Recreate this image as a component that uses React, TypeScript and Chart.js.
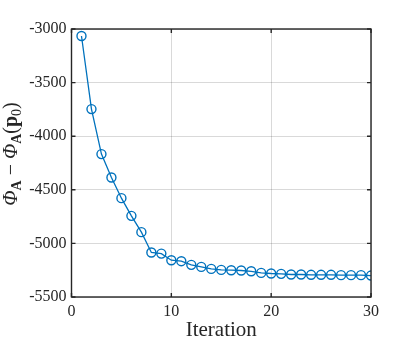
import React, { useEffect, useRef } from 'react';
import { Chart, registerables } from 'chart.js';

Chart.register(...registerables);

const iterations = [
  1, 2, 3, 4, 5, 6, 7, 8, 9, 10, 11, 12, 13, 14, 15,
  16, 17, 18, 19, 20, 21, 22, 23, 24, 25, 26, 27, 28, 29, 30,
];
const objective = [
  -3065, -3747, -4167, -4385, -4578, -4743, -4895, -5085, -5095, -5157,
  -5166, -5200, -5219, -5238, -5247, -5250, -5253, -5260, -5275, -5281,
  -5284, -5290, -5290, -5293, -5293, -5293, -5296, -5296, -5296, -5300,
];
const xTickValues = [0, 10, 20, 30];
const yTickValues = [-5500, -5000, -4500, -4000, -3500, -3000];
const xTitle = 'Iteration';

const FONT = '"Liberation Serif", "DejaVu Serif", serif';
const AXIS_COLOR = '#262626';
const LINE_COLOR = '#0072BD';

const boxPlugin = {
  id: 'boxAndTicks',
  afterDraw(chart: any) {
    const { ctx, chartArea } = chart;
    const { left, right, top, bottom } = chartArea;
    const xs = chart.scales.x;
    const ys = chart.scales.y;
    const tl = 4;
    ctx.save();
    ctx.strokeStyle = AXIS_COLOR;
    ctx.lineWidth = 1.4;
    ctx.strokeRect(left, top, right - left, bottom - top);
    ctx.beginPath();
    xTickValues.forEach((v) => {
      const px = xs.getPixelForValue(v);
      ctx.moveTo(px, bottom);
      ctx.lineTo(px, bottom - tl);
      ctx.moveTo(px, top);
      ctx.lineTo(px, top + tl);
    });
    yTickValues.forEach((v) => {
      const py = ys.getPixelForValue(v);
      ctx.moveTo(left, py);
      ctx.lineTo(left + tl, py);
      ctx.moveTo(right, py);
      ctx.lineTo(right - tl, py);
    });
    ctx.stroke();

    // y-axis title with subscripts: Φ_A − Φ_A(p_0)
    const big = 20;
    const small = 14;
    const parts: { t: string; font: string; dy: number }[] = [
      { t: 'Φ', font: `italic ${big}px ${FONT}`, dy: 0 },
      { t: 'A', font: `bold ${small}px ${FONT}`, dy: 4 },
      { t: ' − ', font: `${big}px ${FONT}`, dy: 0 },
      { t: 'Φ', font: `italic ${big}px ${FONT}`, dy: 0 },
      { t: 'A', font: `bold ${small}px ${FONT}`, dy: 4 },
      { t: '(', font: `${big}px ${FONT}`, dy: 0 },
      { t: 'p', font: `bold ${big}px ${FONT}`, dy: 0 },
      { t: '0', font: `${small}px ${FONT}`, dy: 4 },
      { t: ')', font: `${big}px ${FONT}`, dy: 0 },
    ];
    let total = 0;
    const widths = parts.map((p) => {
      ctx.font = p.font;
      const w = ctx.measureText(p.t).width;
      total += w;
      return w;
    });
    const cy = (top + bottom) / 2 - 9;
    ctx.translate(17, cy);
    ctx.rotate(-Math.PI / 2);
    ctx.fillStyle = AXIS_COLOR;
    ctx.textBaseline = 'alphabetic';
    ctx.textAlign = 'left';
    let x = -total / 2;
    parts.forEach((p, i) => {
      ctx.font = p.font;
      ctx.fillText(p.t, x, p.dy);
      x += widths[i];
    });
    ctx.restore();
  },
};

export default function App() {
  const ref = useRef<HTMLCanvasElement | null>(null);
  useEffect(() => {
    if (!ref.current) return;
    const chart = new Chart(ref.current, {
      type: 'line',
      data: {
        datasets: [
          {
            data: iterations.map((x, i) => ({ x, y: objective[i] })),
            borderColor: LINE_COLOR,
            backgroundColor: 'rgba(0,0,0,0)',
            borderWidth: 1.3,
            pointRadius: 4.5,
            pointBorderWidth: 1.4,
            pointBackgroundColor: 'rgba(0,0,0,0)',
            pointBorderColor: LINE_COLOR,
            tension: 0,
          },
        ],
      },
      options: {
        responsive: false,
        animation: false,
        layout: { padding: { top: 29, right: 36, left: 0, bottom: 0 } },
        plugins: { legend: { display: false }, tooltip: { enabled: false } },
        scales: {
          x: {
            type: 'linear',
            min: 0,
            max: 30,
            afterBuildTicks: (s: any) => {
              s.ticks = xTickValues.map((v) => ({ value: v }));
            },
            afterFit: (s: any) => {
              s.height = 52;
            },
            grid: { color: 'rgba(0,0,0,0.15)', lineWidth: 1, drawTicks: false },
            border: { display: false },
            ticks: {
              color: AXIS_COLOR,
              font: { family: FONT, size: 16 },
              padding: 5,
              maxRotation: 0,
            },
            title: {
              display: true,
              text: xTitle,
              color: AXIS_COLOR,
              font: { family: FONT, size: 21 },
              padding: { top: 0, bottom: 6 },
            },
          },
          y: {
            type: 'linear',
            min: -5500,
            max: -3000,
            afterBuildTicks: (s: any) => {
              s.ticks = yTickValues.map((v) => ({ value: v }));
            },
            afterFit: (s: any) => {
              s.width = 71.5;
            },
            grid: { color: 'rgba(0,0,0,0.15)', lineWidth: 1, drawTicks: false },
            border: { display: false },
            ticks: {
              color: AXIS_COLOR,
              font: { family: FONT, size: 16 },
              padding: 5,
              callback: (v: any) => String(v).replace('−', '-'),
            },
          },
        },
      },
      plugins: [boxPlugin],
    });
    return () => chart.destroy();
  }, []);
  return (
    <div style={{ position: 'absolute', left: 0, top: 0, width: 407, height: 349, background: '#fff' }}>
      <canvas ref={ref} width={407} height={349} />
    </div>
  );
}
